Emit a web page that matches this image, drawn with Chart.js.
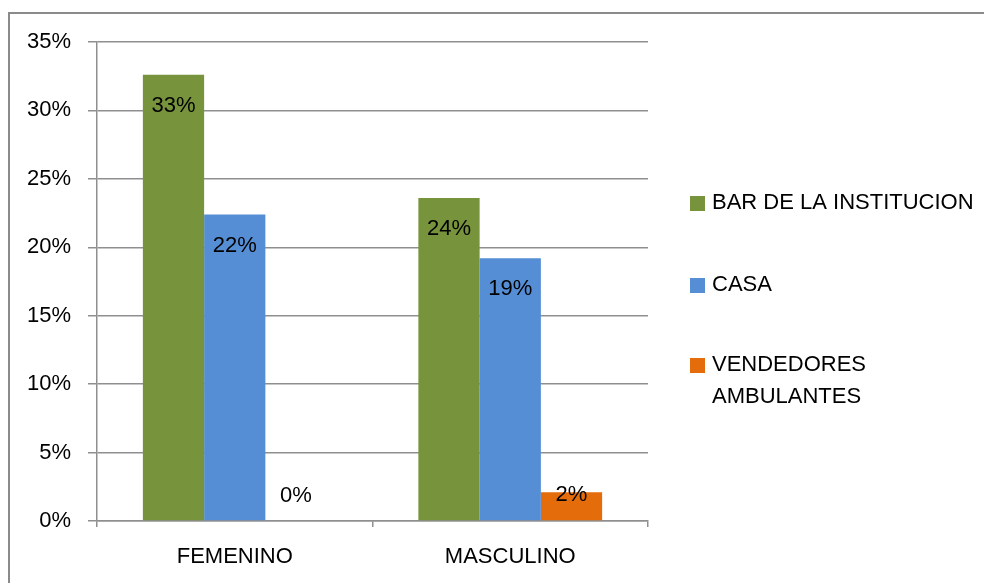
<!DOCTYPE html>
<html>
<head>
<meta charset="utf-8">
<script src="https://cdn.jsdelivr.net/npm/chart.js@4/dist/chart.umd.min.js"></script>
<style>
  html, body { margin: 0; padding: 0; background: #fff; }
  canvas { display: block; }
</style>
</head>
<body>
<canvas id="grafico" width="984" height="583"></canvas>
<script>
// --- datos ---
const categorias = ['FEMENINO', 'MASCULINO'];
const barInstitucion = [32.6, 23.6];
const casa = [22.4, 19.2];
const vendedores = [0, 2.1];
const series = ['BAR DE LA INSTITUCION', 'CASA', ['VENDEDORES', 'AMBULANTES']];
const colores = ['#77933C', '#558ED5', '#E46C0A'];
const ticksY = [0, 5, 10, 15, 20, 25, 30, 35];

const FUENTE = '"Liberation Sans", Arial, sans-serif';
const GRIS = '#8f8f8f';

// marco del grafico (solo izquierda y arriba quedan visibles)
const marco = {
    id: 'marco',
    beforeDraw(chart) {
        const ctx = chart.ctx;
        ctx.save();
        ctx.strokeStyle = '#8a8a8a';
        ctx.lineWidth = 2;
        ctx.strokeRect(9, 13, 1200, 800);
        ctx.restore();
    }
};

// etiquetas con el porcentaje dentro de cada barra
const etiquetas = {
    id: 'etiquetas',
    afterDatasetsDraw(chart) {
        const ctx = chart.ctx;
        ctx.save();
        ctx.font = '22px ' + FUENTE;
        ctx.fillStyle = '#000';
        ctx.textAlign = 'center';
        ctx.textBaseline = 'middle';
        chart.data.datasets.forEach((ds, i) => {
            const meta = chart.getDatasetMeta(i);
            meta.data.forEach((bar, j) => {
                const y = Math.min(bar.y + 31, bar.base - 25);
                ctx.fillText(Math.round(ds.data[j]) + '%', bar.x, y);
            });
        });
        ctx.restore();
    }
};

// leyenda a la derecha
const leyenda = {
    id: 'leyenda',
    afterDraw(chart) {
        const ctx = chart.ctx;
        const filas = [203, 285, 365];
        ctx.save();
        ctx.font = '22px ' + FUENTE;
        ctx.textBaseline = 'middle';
        ctx.textAlign = 'left';
        chart.data.datasets.forEach((ds, i) => {
            const y = filas[i];
            ctx.fillStyle = ds.backgroundColor;
            ctx.fillRect(690, y - 7, 15, 15);
            ctx.fillStyle = '#000';
            const lineas = Array.isArray(ds.label) ? ds.label : [ds.label];
            lineas.forEach((t, k) => ctx.fillText(t, 712, y + k * 32));
        });
        ctx.restore();
    }
};

const datos = [barInstitucion, casa, vendedores];

new Chart(document.getElementById('grafico'), {
    type: 'bar',
    data: {
        labels: categorias,
        datasets: datos.map((d, i) => ({
            label: series[i],
            data: d,
            backgroundColor: colores[i],
            borderWidth: 0,
            barPercentage: 1,
            categoryPercentage: 0.667
        }))
    },
    options: {
        responsive: false,
        animation: false,
        layout: { padding: { left: 0, top: 42, right: 336, bottom: 0 } },
        plugins: {
            legend: { display: false },
            tooltip: { enabled: false }
        },
        scales: {
            y: {
                min: 0,
                max: 35,
                afterFit: (s) => { s.width = 97; },
                afterBuildTicks: (s) => { s.ticks = ticksY.map(v => ({ value: v })); },
                ticks: {
                    padding: 17,
                    color: '#000',
                    font: { family: FUENTE, size: 22 },
                    callback: (v) => v + '%'
                },
                grid: { color: GRIS, lineWidth: 1.5, tickLength: 9 },
                border: { display: true, color: GRIS, width: 1.5 }
            },
            x: {
                afterFit: (s) => { s.height = 62; },
                ticks: {
                    padding: 17,
                    color: '#000',
                    font: { family: FUENTE, size: 22 }
                },
                grid: { offset: true, drawOnChartArea: false, color: GRIS, lineWidth: 1.5, tickLength: 6 },
                border: { display: true, color: GRIS, width: 1.5 }
            }
        }
    },
    plugins: [marco, etiquetas, leyenda]
});
</script>
</body>
</html>
